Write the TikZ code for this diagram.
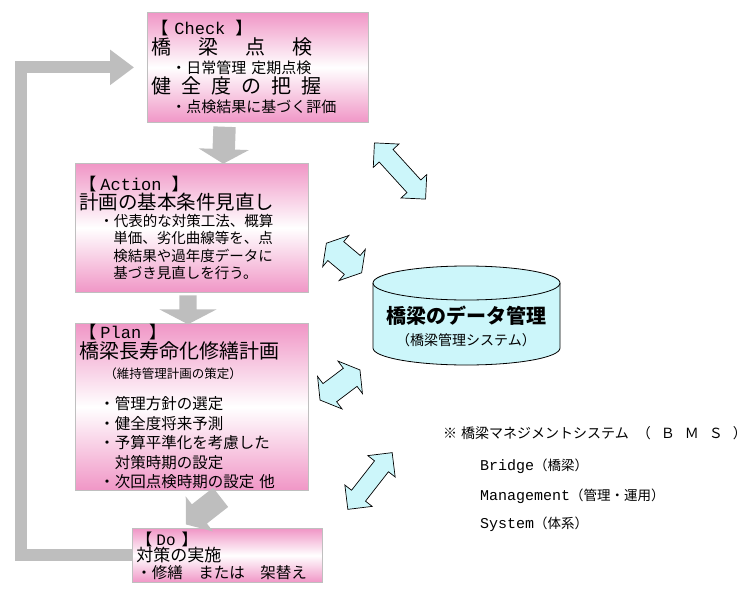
\documentclass[tikz,border=0pt]{standalone}
\usepackage{fontspec}
\setmainfont{Noto Sans CJK JP}
\newfontfamily\latinmono{Liberation Mono}
\usetikzlibrary{
  arrows.meta,
  positioning,
  shapes.arrows,
}
\definecolor{boxpink}{RGB}{240,150,198}
\definecolor{dbcyan}{RGB}{204,246,250}
\definecolor{flowgray}{RGB}{190,190,190}
\newcommand\fz[1]{\fontsize{#1}{\bskip}\selectfont}
\tikzset{
  pdcabox/.style = {
      draw=gray!50,
      line width=0.8pt,
      top color=boxpink, bottom color=boxpink, middle color=white,
      anchor=north west,
      inner xsep=4pt, inner ysep=0pt,
      align=left,
    },
  flowarrow/.style = {
      single arrow,
      fill=flowgray, draw=none,
      inner xsep=0pt,
      single arrow tip angle=120,
    },
  linkarrow/.style = {
      double arrow,
      draw=black, fill=dbcyan,
      line width=0.7pt,
      inner xsep=0pt,
      double arrow tip angle=90,
    },
  dbshape/.style = {
      draw=black,
      fill=dbcyan,
      line width=0.8pt,
    },
  feedback/.style = {
      draw=flowgray,
      line width=12pt,
      -{Triangle[width=34pt,length=24pt]},
    },
  notetext/.style = {
      anchor=west,
      inner sep=0pt,
      font=\fontsize{13.5}{16}\selectfont,
    },
}

\begin{document}
\begin{tikzpicture}[x=1pt, y=-1pt]
    \useasboundingbox (0,0) rectangle (754,594);

    % PDCA boxes
    \node[pdcabox, minimum width=221pt, minimum height=110pt, text width=213pt,
          font={\def\bskip{19.5pt}\lineskiplimit=-40pt}] (check) at (147,12) {%
      \fz{17}【\hspace{6pt}{\latinmono Check}\hspace{10pt}】\\
      \fz{20}橋\hspace{27pt}梁\hspace{27pt}点\hspace{27pt}検\\
      \fz{15}\hspace*{20pt}・日常管理\hspace{5pt}定期点検\\
      \fz{20}健\hspace{10pt}全\hspace{10pt}度\hspace{10pt}の\hspace{10pt}把\hspace{10pt}握\\
      \fz{15}\hspace*{20pt}・点検結果に基づく評価\par};

    \node[pdcabox, minimum width=233pt, minimum height=129pt, text width=225pt,
          font={\def\bskip{17.3pt}\lineskiplimit=-40pt}] (action) at (75,163) {%
      \fz{17}【\hspace{4pt}{\latinmono Action}\hspace{10pt}】\\[1.5pt]
      \fz{19.5}計画の基本条件見直し\\
      \fz{14.5}\hspace*{20pt}・代表的な対策工法、概算\\
      \hspace*{34pt}単価、劣化曲線等を、点\\
      \hspace*{34pt}検結果や過年度データに\\
      \hspace*{34pt}基づき見直しを行う。\par};

    \node[pdcabox, minimum width=233pt, minimum height=167pt, text width=225pt,
          font={\def\bskip{19.5pt}\lineskiplimit=-40pt}] (plan) at (75,323) {%
      \fz{17}【\hspace{4pt}{\latinmono Plan}\hspace{8pt}】\\[0.5pt]
      \fz{20}橋梁長寿命化修繕計画\\
      \fz{12.5}\hspace*{25pt}（維持管理計画の策定）\\[12pt]
      \fz{15.5}\hspace*{20pt}・管理方針の選定\\
      \hspace*{20pt}・健全度将来予測\\
      \hspace*{20pt}・予算平準化を考慮した\\
      \hspace*{35.5pt}対策時期の設定\\
      \hspace*{20pt}・次回点検時期の設定\hspace{5pt}他\par};

    \node[pdcabox, minimum width=190pt, minimum height=54pt, text width=182pt,
          font={\def\bskip{16.5pt}\lineskiplimit=-40pt}] (do) at (132,528) {%
      \fz{16}【\hspace{4pt}{\latinmono Do}\hspace{6pt}】\\
      \fz{17}対策の実施\\
      \fz{15.5}・修繕　または　架替え\par};

    % gray flow arrows
    \node[flowarrow, minimum height=37pt, minimum width=50pt, inner ysep=11pt, single arrow head extend=14pt, rotate=-92] (chk2act) at (224,142) {};
    \node[flowarrow, minimum height=29pt, minimum width=57pt, inner ysep=8.5pt, single arrow head extend=20pt, single arrow tip angle=125, rotate=-90] (act2pln) at (188,307.5) {};
    \node[flowarrow, minimum height=44pt, minimum width=44pt, inner ysep=12pt, single arrow head extend=10pt, single arrow tip angle=105, rotate=218] (pln2do) at (207,508) {};

    \coordinate (loopleft) at (21,300);
    \draw[feedback, shorten >=13pt] (do.west) -| (loopleft) |- (check.west);

    % data management (cylinder)
    \draw[dbshape] (373,283) -- (373,348)
      arc[start angle=180, end angle=0, x radius=93.5, y radius=17] -- (560,283)
      arc[start angle=0, end angle=-180, x radius=93.5, y radius=17] -- cycle;
    \draw[dbshape, fill=none] (373,283) arc[start angle=180, end angle=0, x radius=93.5, y radius=17];
    \node[font=\fontsize{20}{22}\selectfont\bfseries, align=center] (dbtitle) at (466,326)
      {橋梁のデータ管理\\{\fontsize{14}{22}\selectfont\mdseries （橋梁管理システム）}};

    \node[linkarrow, minimum height=76pt, minimum width=34pt, inner ysep=9pt, double arrow head extend=8pt, rotate=-47.7] (linkcheck) at (400,171) {};
    \node[linkarrow, double arrow tip angle=118, minimum height=46pt, minimum width=40pt, inner ysep=12pt, double arrow head extend=8pt, rotate=-40] (linkaction) at (344,258) {};
    \node[linkarrow, double arrow tip angle=118, minimum height=50pt, minimum width=40pt, inner ysep=11pt, double arrow head extend=9pt, rotate=37] (linkplan) at (340,385) {};
    \node[linkarrow, minimum height=72pt, minimum width=34pt, inner ysep=8.5pt, double arrow head extend=8.5pt, rotate=52] (linkdo) at (370,481) {};

    % BMS note
    \node[notetext, font=\fontsize{14}{16}\selectfont] (bmsnote) at (443,433)
      {※\hspace{4pt}橋梁マネジメントシステム\hspace{8pt}（\hspace{10pt}Ｂ\hspace{10pt}Ｍ\hspace{10pt}Ｓ\hspace{10pt}）};
    \node[notetext] (bmsbridge) at (480,466) {{\latinmono\fontsize{15}{16}\selectfont Bridge}（橋梁）};
    \node[notetext] (bmsmanage) at (480,496) {{\latinmono\fontsize{15}{16}\selectfont Management}（管理・運用）};
    \node[notetext] (bmssystem) at (480,524) {{\latinmono\fontsize{15}{16}\selectfont System}（体系）};
\end{tikzpicture}
\end{document}
